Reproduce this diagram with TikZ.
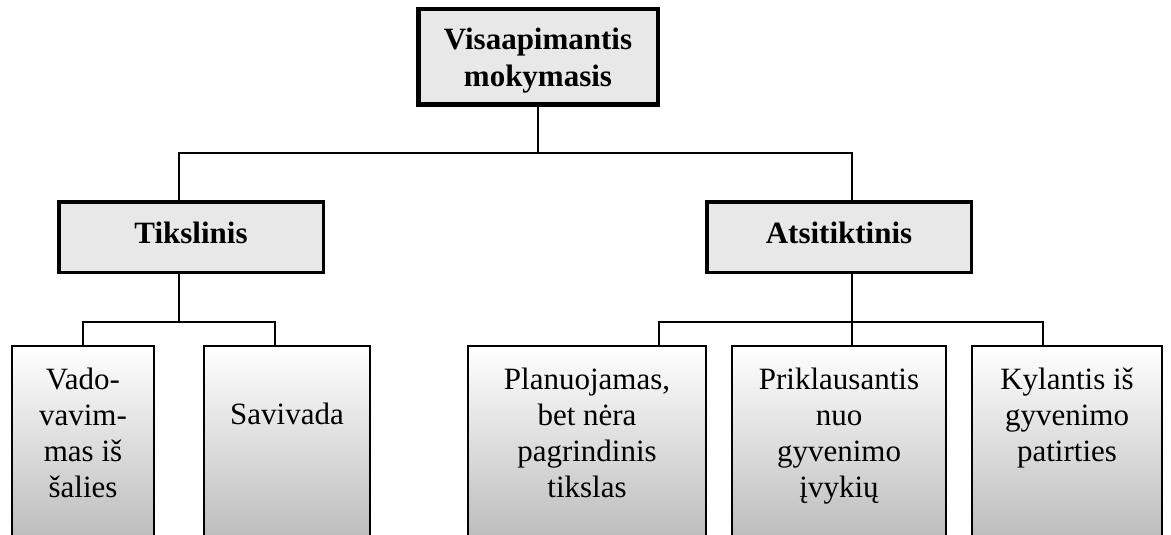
\documentclass[tikz,border=0pt]{standalone}
\usepackage{fontspec}
\setmainfont{Liberation Serif}
\usetikzlibrary{shadows}

% anchor=base of a multi-line node sits on its last line
\tikzset{
  conn/.style={line width=2pt, line cap=rect},
  headbox/.style={draw, line width=4.5pt, fill=gray!18, rectangle,
    inner sep=0pt, outer sep=0pt,
    drop shadow={shadow xshift=1.5pt, shadow yshift=-1.5pt, fill=gray!45, opacity=1}},
  midbox/.style={draw, line width=3.5pt, fill=gray!18, rectangle,
    inner sep=0pt, outer sep=0pt, minimum width=264.5pt, minimum height=70.5pt,
    drop shadow={shadow xshift=1.5pt, shadow yshift=-1.5pt, fill=gray!45, opacity=1}},
  leafbox/.style={draw, line width=1.8pt, rectangle, inner sep=0pt, outer sep=0pt,
    minimum height=214pt, top color=white, bottom color=gray!58},
  boldtxt/.style={font=\fontsize{31}{37}\selectfont\bfseries, align=center,
    anchor=base, inner sep=0pt},
  plaintxt/.style={font=\fontsize{31}{36}\selectfont, align=center,
    anchor=base, inner sep=0pt}
}

\begin{document}
\begin{tikzpicture}[x=1pt, y=-1pt]
  \useasboundingbox (0,0) rectangle (1171,535);
  \clip (0,0) rectangle (1171,535);

  % root
  \node[headbox, minimum width=239.5pt, minimum height=95.5pt] (root) at (538,57) {};
  \node[boldtxt] (rootT) at (538,87) {Visaapimantis\\mokymasis};

  % second level
  \node[midbox] (tiks) at (191,237) {};
  \node[boldtxt] (tiksT) at (191,243) {Tikslinis};
  \node[midbox] (atsi) at (839,237) {};
  \node[boldtxt] (atsiT) at (839,243) {Atsitiktinis};

  % leaves
  \node[leafbox, minimum width=142pt] (l1) at (83,453) {};
  \node[leafbox, minimum width=166pt] (l2) at (287,453) {};
  \node[leafbox, minimum width=238pt] (r1) at (587,453) {};
  \node[leafbox, minimum width=214pt] (r2) at (839,453) {};
  \node[leafbox, minimum width=190pt] (r3) at (1067,453) {};

  \node[plaintxt] (l1T) at (83,497) {Vado-\\vavim-\\mas iš\\šalies};
  \node[plaintxt] (l2T) at (287,424) {Savivada};
  \node[plaintxt] (r1T) at (587,497) {Planuojamas,\\bet nėra\\pagrindinis\\tikslas};
  \node[plaintxt] (r2T) at (839,497) {Priklausantis\\nuo\\gyvenimo\\įvykių};
  \node[plaintxt] (r3T) at (1067,461) {Kylantis iš\\gyvenimo\\patirties};

  % junction points
  \coordinate (busA) at (538,153);
  \coordinate (busAl) at (179,153);
  \coordinate (busAr) at (852,153);
  \coordinate (busL) at (179,321.5);
  \coordinate (busLl) at (83,321.5);
  \coordinate (busLr) at (275,321.5);
  \coordinate (busR) at (852,321.5);
  \coordinate (busRl) at (659,321.5);
  \coordinate (busRr) at (1043,321.5);

  % connectors
  \draw[conn] (root.south) -- (busA);
  \draw[conn] (busAl) -- (busAr);
  \draw[conn] (busAl) -- (busAl |- tiks.north);
  \draw[conn] (busAr) -- (busAr |- atsi.north);

  \draw[conn] (busL |- tiks.south) -- (busL);
  \draw[conn] (busLl) -- (busLr);
  \draw[conn] (busLl) -- (busLl |- l1.north);
  \draw[conn] (busLr) -- (busLr |- l2.north);

  \draw[conn] (busR |- atsi.south) -- (busR);
  \draw[conn] (busRl) -- (busRr);
  \draw[conn] (busRl) -- (busRl |- r1.north);
  \draw[conn] (busR) -- (busR |- r2.north);
  \draw[conn] (busRr) -- (busRr |- r3.north);
\end{tikzpicture}
\end{document}
